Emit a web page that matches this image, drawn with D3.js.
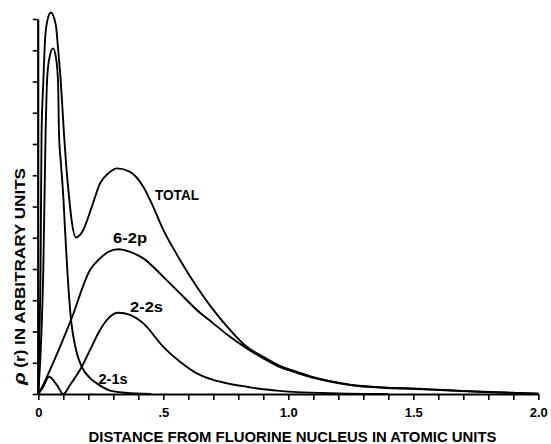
<!DOCTYPE html>
<html><head><meta charset="utf-8">
<script src="https://cdn.jsdelivr.net/npm/d3@7"></script>
<style>html,body{margin:0;padding:0;background:#fff;} svg{display:block}</style>
</head><body>
<svg id="c" width="551" height="444"></svg>
<script>
// ---- data (x: distance in atomic units, y: density in arbitrary tick units) ----
const total = [[0,0],[0.005,2.05],[0.009,3.97],[0.013,8.29],[0.02,9.98],[0.027,11.33],[0.035,11.9],[0.05,12.21],
  [0.07,11.81],[0.079,11.06],[0.09,9.99],[0.103,8.29],[0.111,7.38],[0.123,6.31],[0.135,5.46],[0.15,5.01],
  [0.18,5.25],[0.214,5.99],[0.247,6.74],[0.28,7.06],[0.316,7.22],[0.367,7.11],[0.42,6.63],[0.447,6.21],
  [0.5,5.25],[0.567,4.29],[0.634,3.43],[0.7,2.69],[0.767,2.05],[0.834,1.51],[0.9,1.19],[0.967,0.9],
  [1.034,0.71],[1.1,0.54],[1.167,0.41],[1.247,0.30],[1.38,0.21],[1.514,0.17],[1.647,0.12],[1.78,0.07],
  [1.914,0.03],[2.0,0.01]];
const p2 = [[0,0],[0.02,0.3],[0.043,0.7],[0.131,2.37],[0.207,3.97],[0.247,4.34],[0.28,4.55],[0.32,4.63],
  [0.367,4.55],[0.42,4.34],[0.5,3.75],[0.567,3.22],[0.634,2.69],[0.7,2.26],[0.767,1.83],[0.834,1.46],
  [0.9,1.14],[0.967,0.86],[1.034,0.68],[1.1,0.52],[1.167,0.40],[1.247,0.29],[1.38,0.2],[1.514,0.16],
  [1.647,0.11],[1.78,0.065],[1.914,0.03],[2.0,0.01]];
const s2 = [[0,0],[0.02,0.23],[0.043,0.55],[0.074,0.29],[0.1,0],[0.127,0.29],[0.174,0.87],[0.207,1.41],
  [0.247,2.05],[0.28,2.42],[0.32,2.6],[0.367,2.53],[0.42,2.26],[0.5,1.51],[0.567,1.03],[0.634,0.66],
  [0.7,0.45],[0.767,0.32],[0.834,0.23],[0.9,0.15],[0.967,0.1],[1.034,0.06],[1.2,0.02],[1.4,0]];
const s1 = [[0,0],[0.013,2.05],[0.02,3.97],[0.029,8.29],[0.035,10.02],[0.043,10.69],[0.059,11.06],
  [0.071,10.74],[0.079,9.99],[0.083,8.29],[0.091,7.33],[0.1,6.31],[0.107,5.25],[0.116,3.97],[0.131,2.37],
  [0.151,1.41],[0.174,0.87],[0.207,0.51],[0.234,0.34],[0.287,0.11],[0.347,0.04],[0.45,0]];
const seriesNames = ["TOTAL", "6-2p", "2-2s", "2-1s"];
const xTickValues = [0, 0.5, 1, 1.5, 2];
const xTickLabels = ["0", ".5", "1.0", "1.5", "2.0"];
const yTicks = d3.range(0, 13);
const xTitle = "DISTANCE FROM FLUORINE NUCLEUS IN ATOMIC UNITS";
const yTitleRho = "\u03C1";
const yTitleRest = " (r) IN ARBITRARY UNITS";

// ---- drawing ----
const svg = d3.select("#c");
const font = "'Liberation Sans', Arial, sans-serif";
const x = d3.scaleLinear().domain([0, 2]).range([38.3, 538.3]);
const y = d3.scaleLinear().domain([0, 12]).range([394, 19]);

const xAxis = d3.axisBottom(x)
  .tickValues(d3.range(0, 21).map(i => i / 10))
  .tickSize(6).tickSizeOuter(0).tickPadding(8)
  .tickFormat(d => { const i = xTickValues.findIndex(v => Math.abs(v - d) < 1e-9); return i >= 0 ? xTickLabels[i] : ""; });
const gx = svg.append("g").attr("transform", `translate(0,${y(0)})`).call(xAxis);
gx.select(".domain").attr("stroke", "#000").attr("stroke-width", 2.2);
gx.selectAll(".tick line").attr("stroke", "#000").attr("stroke-width", 1.6);
gx.selectAll(".tick text").attr("fill", "#000").style("font-family", font)
  .style("font-size", "13px").style("font-weight", "bold");

const yAxis = d3.axisLeft(y).tickValues(yTicks).tickSize(5).tickSizeOuter(0).tickFormat("");
const gy = svg.append("g").attr("transform", `translate(${x(0) - 0.6},0)`).call(yAxis);
gy.select(".domain").attr("stroke", "#000").attr("stroke-width", 2.2);
gy.selectAll(".tick line").attr("stroke", "#000").attr("stroke-width", 1.6);

const line = d3.line().x(d => x(d[0])).y(d => y(d[1])).curve(d3.curveMonotoneX);
[total, p2, s2, s1].forEach(ser => {
  svg.append("path").datum(ser).attr("d", line)
    .attr("fill", "none").attr("stroke", "#000").attr("stroke-width", 1.9)
    .attr("stroke-linejoin", "round");
});

// curve labels
const labelPos = [[155, 200, 44], [113, 242.5, 34], [130, 311.5, 33], [98.5, 383.5, 29]];
seriesNames.forEach((n, i) => {
  svg.append("text").attr("x", labelPos[i][0]).attr("y", labelPos[i][1])
    .attr("textLength", labelPos[i][2]).attr("lengthAdjust", "spacingAndGlyphs")
    .style("font-family", font).style("font-size", "14px").style("font-weight", "bold")
    .text(n);
});

// axis titles
svg.append("text").attr("x", 88.5).attr("y", 441.5)
  .attr("textLength", 408).attr("lengthAdjust", "spacingAndGlyphs")
  .style("font-family", font).style("font-size", "14px").style("font-weight", "bold")
  .text(xTitle);

const yt = svg.append("text").attr("transform", "translate(25,385) rotate(-90)")
  .attr("textLength", 217).attr("lengthAdjust", "spacingAndGlyphs")
  .style("font-family", font).style("font-size", "14px").style("font-weight", "bold");
yt.append("tspan").style("font-style", "italic").style("font-size", "17px").text(yTitleRho);
yt.append("tspan").text(yTitleRest);
</script>
</body></html>
